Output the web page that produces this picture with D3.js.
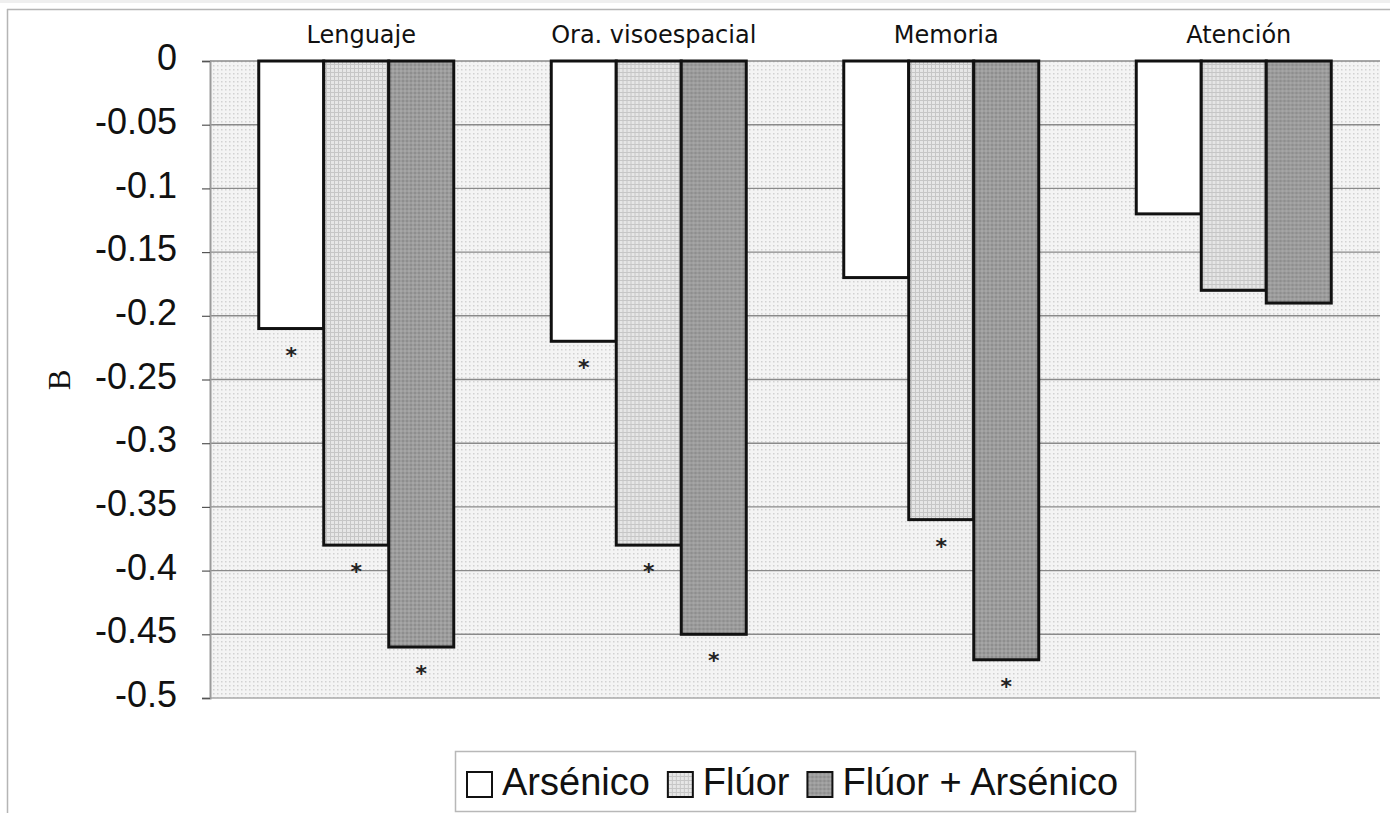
<!DOCTYPE html>
<html>
<head>
<meta charset="utf-8">
<script src="https://cdn.jsdelivr.net/npm/d3@7"></script>
<style>
  body { margin: 0; background: #fff; }
  svg { display: block; }
</style>
</head>
<body>
<div id="chart"></div>
<script>
// data
var categories = ["Lenguaje", "Ora. visoespacial", "Memoria", "Atención"];
var series = ["Arsénico", "Flúor", "Flúor + Arsénico"];
var arsenico = [-0.21, -0.22, -0.17, -0.12];
var fluor = [-0.38, -0.38, -0.36, -0.18];
var fluorArsenico = [-0.46, -0.45, -0.47, -0.19];
// significance marks (*) per series
var sigArsenico = [true, true, false, false];
var sigFluor = [true, true, true, false];
var sigFluorArsenico = [true, true, true, false];
var yTicks = [0, -0.05, -0.1, -0.15, -0.2, -0.25, -0.3, -0.35, -0.4, -0.45, -0.5];
var yTickLabels = ["0", "-0.05", "-0.1", "-0.15", "-0.2", "-0.25", "-0.3", "-0.35", "-0.4", "-0.45", "-0.5"];

var values = [arsenico, fluor, fluorArsenico];
var sigs = [sigArsenico, sigFluor, sigFluorArsenico];

var W = 1390, H = 813;
var plot = { left: 210, right: 1380, top: 61, bottom: 698 };

var svg = d3.select("#chart").append("svg")
  .attr("width", W)
  .attr("height", H);

// patterns to mimic the printed textures
var defs = svg.append("defs");

var bgPat = defs.append("pattern")
  .attr("id", "bgPat").attr("patternUnits", "userSpaceOnUse")
  .attr("width", 4).attr("height", 4);
bgPat.append("rect").attr("width", 4).attr("height", 4).attr("fill", "#f4f4f4");
bgPat.append("rect").attr("x", 1).attr("y", 1).attr("width", 1.5).attr("height", 1.5).attr("fill", "#d2d2d2");

var lightPat = defs.append("pattern")
  .attr("id", "lightPat").attr("patternUnits", "userSpaceOnUse")
  .attr("width", 4).attr("height", 4);
lightPat.append("rect").attr("width", 4).attr("height", 4).attr("fill", "#e6e6e6");
lightPat.append("rect").attr("x", 0).attr("y", 0).attr("width", 4).attr("height", 1).attr("fill", "#c6c6c6");
lightPat.append("rect").attr("x", 0).attr("y", 0).attr("width", 1).attr("height", 4).attr("fill", "#c6c6c6");

var darkPat = defs.append("pattern")
  .attr("id", "darkPat").attr("patternUnits", "userSpaceOnUse")
  .attr("width", 4).attr("height", 4);
darkPat.append("rect").attr("width", 4).attr("height", 4).attr("fill", "#9c9c9c");
darkPat.append("rect").attr("x", 0).attr("y", 0).attr("width", 2).attr("height", 2).attr("fill", "#8e8e8e");
darkPat.append("rect").attr("x", 2).attr("y", 2).attr("width", 2).attr("height", 2).attr("fill", "#a6a6a6");

var fills = ["#ffffff", "url(#lightPat)", "url(#darkPat)"];

// outer chart frame
svg.append("rect").attr("x", 0).attr("y", 0).attr("width", W).attr("height", 3).attr("fill", "#efefef");
svg.append("line").attr("x1", 7).attr("x2", W).attr("y1", 9.5).attr("y2", 9.5)
  .attr("stroke", "#b5b5b5").attr("stroke-width", 1.5);
svg.append("line").attr("x1", 7.5).attr("x2", 7.5).attr("y1", 9).attr("y2", H)
  .attr("stroke", "#b5b5b5").attr("stroke-width", 1.5);

// scales
var x0 = d3.scaleBand()
  .domain(categories)
  .range([plot.left, plot.right])
  .padding(0);

var x1 = d3.scaleBand()
  .domain(series)
  .range([0, x0.bandwidth()])
  .paddingInner(0)
  .paddingOuter(0.75);

var y = d3.scaleLinear()
  .domain([0, -0.5])
  .range([plot.top, plot.bottom]);

// plot background
svg.append("rect")
  .attr("x", plot.left).attr("y", plot.top)
  .attr("width", plot.right - plot.left).attr("height", plot.bottom - plot.top)
  .attr("fill", "url(#bgPat)");

// gridlines
svg.append("g")
  .selectAll("line")
  .data(yTicks)
  .enter().append("line")
  .attr("x1", plot.left).attr("x2", plot.right)
  .attr("y1", function (d) { return y(d); })
  .attr("y2", function (d) { return y(d); })
  .attr("stroke", function (d) { return d === -0.5 ? "#aaa" : "#8a8a8a"; })
  .attr("stroke-width", 1.4);

// y axis
var yAxis = d3.axisLeft(y)
  .tickValues(yTicks)
  .tickSize(8)
  .tickPadding(25)
  .tickFormat(function (d, i) { return yTickLabels[i]; });

var yg = svg.append("g")
  .attr("transform", "translate(" + plot.left + ",0)")
  .call(yAxis);
yg.select(".domain").attr("stroke", "#9a9a9a").attr("stroke-width", 2);
yg.selectAll(".tick line").attr("stroke", "#555").attr("stroke-width", 1.2);
yg.selectAll(".tick text")
  .attr("fill", "#111")
  .style("font-family", "'Liberation Sans', Arial, sans-serif")
  .style("font-size", "36px")
  .attr("dy", "0.24em");

// axis title
svg.append("text")
  .attr("transform", "translate(70,380) rotate(-90)")
  .attr("text-anchor", "middle")
  .style("font-family", "'Liberation Serif', 'Times New Roman', serif")
  .style("font-size", "31px")
  .attr("fill", "#111")
  .text("B");

// bars
var groups = svg.append("g")
  .selectAll("g")
  .data(categories)
  .enter().append("g")
  .attr("transform", function (d) { return "translate(" + x0(d) + ",0)"; });

groups.selectAll("rect")
  .data(function (c, ci) {
    return series.map(function (s, si) { return { s: s, si: si, v: values[si][ci], sig: sigs[si][ci] }; });
  })
  .enter().append("rect")
  .attr("x", function (d) { return x1(d.s); })
  .attr("width", x1.bandwidth())
  .attr("y", y(0))
  .attr("height", function (d) { return y(d.v) - y(0); })
  .attr("fill", function (d) { return fills[d.si]; })
  .attr("stroke", "#111")
  .attr("stroke-width", 3);

// significance asterisks
groups.selectAll("text.sig")
  .data(function (c, ci) {
    return series.map(function (s, si) { return { s: s, v: values[si][ci], sig: sigs[si][ci] }; })
      .filter(function (d) { return d.sig; });
  })
  .enter().append("text")
  .attr("class", "sig")
  .attr("x", function (d) { return x1(d.s) + x1.bandwidth() / 2; })
  .attr("y", function (d) { return y(d.v) + 34; })
  .attr("text-anchor", "middle")
  .style("font-family", "'DejaVu Sans', sans-serif")
  .style("font-size", "22px")
  .style("font-weight", "bold")
  .attr("fill", "#222")
  .text("*");

// category labels above
svg.append("g")
  .selectAll("text")
  .data(categories)
  .enter().append("text")
  .attr("x", function (d) { return x0(d) + x0.bandwidth() / 2 + 5; })
  .attr("y", 43)
  .attr("text-anchor", "middle")
  .style("font-family", "'DejaVu Sans', sans-serif")
  .style("font-size", "24px")
  .attr("fill", "#111")
  .text(function (d) { return d; });

// legend
var legend = svg.append("g");
legend.append("rect")
  .attr("x", 455.5).attr("y", 751.5)
  .attr("width", 680).attr("height", 60)
  .attr("fill", "#fff")
  .attr("stroke", "#b8b8b8").attr("stroke-width", 1.5);

var lx = 467;
series.forEach(function (s, i) {
  var item = legend.append("g").attr("transform", "translate(" + lx + ",0)");
  item.append("rect")
    .attr("x", 0).attr("y", 772).attr("width", 25).attr("height", 25)
    .attr("fill", fills[i]).attr("stroke", "#111").attr("stroke-width", 2);
  var t = item.append("text")
    .attr("x", 35).attr("y", 795)
    .style("font-family", "'Liberation Sans', Arial, sans-serif")
    .style("font-size", "38px")
    .attr("fill", "#111")
    .text(s);
  lx += 35 + t.node().getComputedTextLength() + 18;
});
</script>
</body>
</html>
